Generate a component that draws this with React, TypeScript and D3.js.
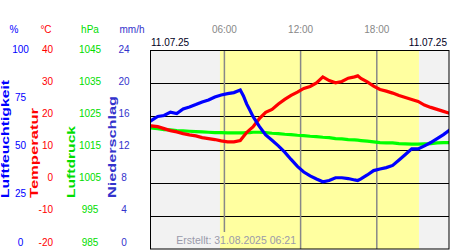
import React from "react";
import * as d3 from "d3";

const hours = [0.25, 0.75, 1.25, 1.75, 2.25, 2.75, 3.25, 3.75, 4.25, 4.75, 5.25, 5.75, 6.25, 6.75, 7.25, 7.5, 7.75, 8.0, 8.25, 8.75, 9.25, 9.75, 10.25, 10.75, 11.25, 11.75, 12.25, 12.75, 13.25, 13.75, 14.25, 14.75, 15.25, 15.75, 16.25, 16.5, 16.75, 17.25, 17.75, 18.25, 18.75, 19.25, 19.75, 20.25, 20.75, 21.25, 21.75, 22.25, 22.75, 23.25, 23.75];

const humidity = [64.6, 66.6, 67.1, 68.8, 68.1, 70.4, 71.4, 72.6, 73.9, 74.9, 76.4, 77.4, 78.1, 78.6, 79.9, 76.9, 72.9, 69.8, 66.6, 61.6, 57.3, 54.6, 51.8, 48.7, 45.0, 41.5, 38.7, 36.7, 35.2, 33.8, 34.4, 35.8, 35.8, 35.4, 34.7, 34.4, 35.2, 37.2, 39.4, 40.2, 40.9, 42.0, 44.7, 47.5, 50.3, 50.3, 51.8, 53.5, 55.5, 57.5, 59.8];

const temperature = [17.1, 16.9, 16.3, 15.7, 15.3, 14.8, 14.4, 14.1, 13.6, 13.3, 13.0, 12.6, 12.3, 12.3, 12.7, 13.9, 15.1, 16.0, 16.8, 19.3, 21.2, 22.1, 23.7, 25.1, 26.3, 27.3, 28.4, 29.0, 30.1, 31.9, 30.8, 30.1, 30.5, 31.5, 31.9, 32.2, 31.4, 30.4, 29.1, 28.1, 27.6, 27.0, 26.3, 25.7, 25.1, 24.5, 23.4, 22.7, 22.1, 21.5, 20.9];

const pressure = [1021.5, 1021.3, 1021.0, 1020.9, 1020.7, 1020.6, 1020.5, 1020.4, 1020.3, 1020.2, 1020.1, 1020.1, 1020.0, 1020.0, 1020.0, 1020.0, 1020.1, 1020.1, 1020.2, 1020.2, 1020.1, 1019.9, 1019.8, 1019.6, 1019.5, 1019.3, 1019.2, 1019.0, 1018.9, 1018.7, 1018.6, 1018.3, 1018.2, 1018.0, 1017.9, 1017.8, 1017.7, 1017.5, 1017.3, 1017.1, 1017.0, 1017.0, 1016.8, 1016.7, 1016.6, 1016.6, 1016.7, 1016.8, 1017.0, 1017.1, 1017.1];

const humTicks = [0, 25, 50, 75, 100];
const tempTicks = [-20, -10, 0, 10, 20, 30, 40];
const presTicks = [985, 995, 1005, 1015, 1025, 1035, 1045];
const rainTicks = [0, 4, 8, 12, 16, 20, 24];
const timeTicks = [6, 12, 18];
const timeLabels = ["06:00", "12:00", "18:00"];
const daylight = [5.65, 21.32];
const dateLabel = "11.07.25";
const createdLabel = "Erstellt: 31.08.2025 06:21";

const FONT = "'Liberation Sans', Arial, sans-serif";

export default function App() {
  const left = 150, right = 449, top = 50, bottom = 249;
  const x = d3.scaleLinear().domain([0, 24]).range([148.2, 453]);
  const yHum = d3.scaleLinear().domain([0, 100]).range([bottom, top]);
  const yTemp = d3.scaleLinear().domain([-20, 40]).range([bottom, top]);
  const yPres = d3.scaleLinear().domain([985, 1045]).range([bottom, top]);
  // label positions (labels are spread slightly tighter than grid)
  const lHum = d3.scaleLinear().domain([0, 100]).range([243, 50]);
  const lTemp = d3.scaleLinear().domain([-20, 40]).range([243, 50]);
  const lPres = d3.scaleLinear().domain([985, 1045]).range([243, 50]);
  const lRain = d3.scaleLinear().domain([0, 24]).range([243, 50]);

  const mk = (vals: number[], ys: d3.ScaleLinear<number, number>) =>
    d3.line<number>().x((_, i) => x(hours[i])).y((v) => ys(v))(vals) || "";

  return (
    <svg width={450} height={250} style={{ position: "absolute", left: 0, top: 0, background: "#fff" }} fontFamily={FONT}>
      <defs>
        <clipPath id="plotclip">
          <rect x={left} y={top} width={right - left} height={bottom - top} />
        </clipPath>
      </defs>
      {/* backgrounds */}
      <rect x={left} y={top} width={right - left} height={bottom - top} fill="#f2f2f2" />
      <rect x={x(daylight[0])} y={top} width={x(daylight[1]) - x(daylight[0])} height={bottom - top} fill="#ffffa0" />
      {/* horizontal grid */}
      {tempTicks.slice(1, -1).map((t) => (
        <line key={t} x1={left} x2={right} y1={Math.round(yTemp(t)) + 0.5} y2={Math.round(yTemp(t)) + 0.5} stroke="#000" strokeWidth={1.2} />
      ))}
      {/* vertical time lines */}
      {timeTicks.map((h, i) => (
        <line key={h} x1={x(h)} x2={x(h)} y1={top} y2={i === 0 ? 232 : bottom} stroke="#888" strokeWidth={1.5} />
      ))}
      {/* series */}
      <g clipPath="url(#plotclip)" fill="none" strokeLinejoin="miter" strokeLinecap="square">
        <path d={mk(pressure, yPres)} stroke="#00ff00" strokeWidth={3.2} />
        <path d={mk(temperature, yTemp)} stroke="#ff0000" strokeWidth={3.2} />
        <path d={mk(humidity, yHum)} stroke="#0000ff" strokeWidth={3.2} />
      </g>
      {/* border */}
      <rect x={left + 0.5} y={top + 0.5} width={right - left - 0.5} height={bottom - top - 0.5} fill="none" stroke="#000" strokeWidth={1} />
      {/* created */}
      <text x={296} y={241} fontSize={10.5} fill="#9a9aaa" textAnchor="end" dominantBaseline="middle">{createdLabel}</text>
      {/* time labels */}
      {timeTicks.map((h, i) => (
        <text key={h} x={x(h)} y={30.5} fontSize={10} fill="#888" textAnchor="middle" dominantBaseline="middle">{timeLabels[i]}</text>
      ))}
      <text x={151} y={43.5} fontSize={10} fill="#000022" dominantBaseline="middle">{dateLabel}</text>
      <text x={447} y={43.5} fontSize={10} fill="#000022" textAnchor="end" dominantBaseline="middle">{dateLabel}</text>
      {/* unit headers */}
      <text x={14} y={30.5} fontSize={10} fill="#0000ff" textAnchor="middle" dominantBaseline="middle">%</text>
      <text x={46} y={30.5} fontSize={10} fill="#ff0000" textAnchor="middle" dominantBaseline="middle">°C</text>
      <text x={90} y={30.5} fontSize={10} fill="#00dd00" textAnchor="middle" dominantBaseline="middle">hPa</text>
      <text x={132} y={30.5} fontSize={10} fill="#3333cc" textAnchor="middle" dominantBaseline="middle">mm/h</text>
      {/* tick labels */}
      {humTicks.map((t) => (
        <text key={"h" + t} x={20.5} y={lHum(t)} fontSize={10} fill="#0000ff" textAnchor="middle" dominantBaseline="middle">{t}</text>
      ))}
      {tempTicks.map((t) => (
        <text key={"t" + t} x={53} y={lTemp(t)} fontSize={10} fill="#ff0000" textAnchor="end" dominantBaseline="middle">{t}</text>
      ))}
      {presTicks.map((t) => (
        <text key={"p" + t} x={90} y={lPres(t)} fontSize={10} fill="#00dd00" textAnchor="middle" dominantBaseline="middle">{t}</text>
      ))}
      {rainTicks.map((t) => (
        <text key={"r" + t} x={124} y={lRain(t)} fontSize={10} fill="#3333cc" textAnchor="middle" dominantBaseline="middle">{t}</text>
      ))}
      {/* rotated axis titles */}
      <text transform="translate(9,198) rotate(-90)" fontSize={10} fontWeight="bold" fill="#0000ff" textLength={118} lengthAdjust="spacingAndGlyphs">Luftfeuchtigkeit</text>
      <text transform="translate(38.3,198) rotate(-90)" fontSize={10} fontWeight="bold" fill="#ff0000" textLength={90} lengthAdjust="spacingAndGlyphs">Temperatur</text>
      <text transform="translate(75,198) rotate(-90)" fontSize={10} fontWeight="bold" fill="#00dd00" textLength={72} lengthAdjust="spacingAndGlyphs">Luftdruck</text>
      <text transform="translate(116,198) rotate(-90)" fontSize={10} fontWeight="bold" fill="#3333cc" textLength={102} lengthAdjust="spacingAndGlyphs">Niederschlag</text>
    </svg>
  );
}
